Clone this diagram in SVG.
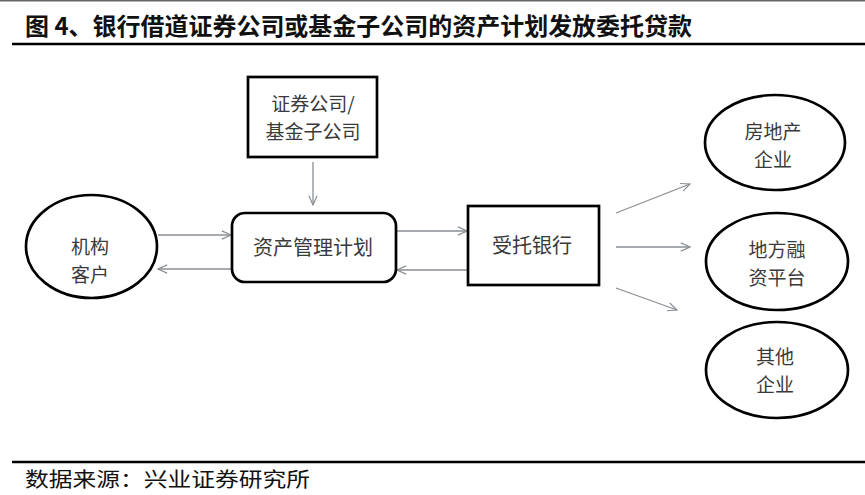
<svg xmlns="http://www.w3.org/2000/svg" width="865" height="495" viewBox="0 0 865 495">
<defs>
<style>
.node{fill:#fff;stroke:#000;stroke-width:2.7}
.lbl{font-family:"Noto Sans CJK SC","Noto Sans",sans-serif;font-size:20px;fill:#3a3a3a;text-anchor:middle}
.lbl2{font-family:"Noto Sans CJK SC","Noto Sans",sans-serif;font-size:19px;fill:#3a3a3a;text-anchor:middle}
.conn{stroke:#8a8f94;stroke-width:1.3;fill:none}
</style>
<marker id="ah" viewBox="0 0 12 12" refX="11" refY="6" markerWidth="11" markerHeight="11" markerUnits="userSpaceOnUse" orient="auto">
<path d="M1,1.5 L11,6 L1,10.5" fill="none" stroke="#8a8f94" stroke-width="1.3"/>
</marker>
</defs>
<rect x="0" y="0" width="865" height="495" fill="#fff"/>
<rect x="0" y="0" width="865" height="1.5" fill="#666"/>
<text x="25" y="35" font-family="'Noto Sans CJK SC','Noto Sans',sans-serif" font-size="24" font-weight="bold" fill="#111" textLength="667" lengthAdjust="spacingAndGlyphs">图 4、银行借道证券公司或基金子公司的资产计划发放委托贷款</text>
<line x1="12" y1="44" x2="865" y2="44" stroke="#000" stroke-width="2.5"/>
<line x1="12" y1="462" x2="865" y2="462" stroke="#000" stroke-width="2.5"/>
<text x="25" y="487" font-family="'Noto Sans CJK SC','Noto Sans',sans-serif" font-size="20" fill="#111" textLength="285" lengthAdjust="spacingAndGlyphs">数据来源：兴业证券研究所</text>

<g id="connectors">
<line class="conn" x1="313" y1="162" x2="313" y2="205" marker-end="url(#ah)"/>
<line class="conn" x1="158" y1="235" x2="231" y2="235" marker-end="url(#ah)"/>
<line class="conn" x1="232" y1="269" x2="158" y2="269" marker-end="url(#ah)"/>
<line class="conn" x1="396" y1="231" x2="467" y2="231" marker-end="url(#ah)"/>
<line class="conn" x1="468" y1="270" x2="397" y2="270" marker-end="url(#ah)"/>
<line class="conn" x1="616" y1="213" x2="690" y2="184" marker-end="url(#ah)"/>
<line class="conn" x1="616" y1="247" x2="690" y2="247" marker-end="url(#ah)"/>
<line class="conn" x1="616" y1="288" x2="677" y2="310" marker-end="url(#ah)"/>
</g>

<g id="securities">
<rect class="node" x="248" y="77" width="129" height="80"/>
<text class="lbl2" x="313" y="111"><tspan x="313">证券公司/</tspan><tspan x="313" dy="27.8">基金子公司</tspan></text>
</g>
<g id="amp">
<rect class="node" x="232" y="213" width="164" height="69" rx="13"/>
<text class="lbl" x="313" y="255">资产管理计划</text>
</g>
<g id="bank">
<rect class="node" x="468" y="206" width="131" height="79"/>
<text class="lbl" x="532" y="253">受托银行</text>
</g>
<g id="client">
<ellipse class="node" cx="91.5" cy="246.5" rx="65.5" ry="51.5"/>
<text class="lbl2" x="90" y="254"><tspan x="90">机构</tspan><tspan x="90" dy="27.8">客户</tspan></text>
</g>
<g id="realestate">
<ellipse class="node" cx="775" cy="142.5" rx="70" ry="47.5"/>
<text class="lbl2" x="773" y="139"><tspan x="773">房地产</tspan><tspan x="773" dy="27.8">企业</tspan></text>
</g>
<g id="lgfv">
<ellipse class="node" cx="777" cy="261.5" rx="71" ry="48.5"/>
<text class="lbl2" x="777" y="257"><tspan x="777">地方融</tspan><tspan x="777" dy="27.8">资平台</tspan></text>
</g>
<g id="other">
<ellipse class="node" cx="777" cy="370" rx="71" ry="48"/>
<text class="lbl2" x="775" y="364"><tspan x="775">其他</tspan><tspan x="775" dy="27.8">企业</tspan></text>
</g>
</svg>
